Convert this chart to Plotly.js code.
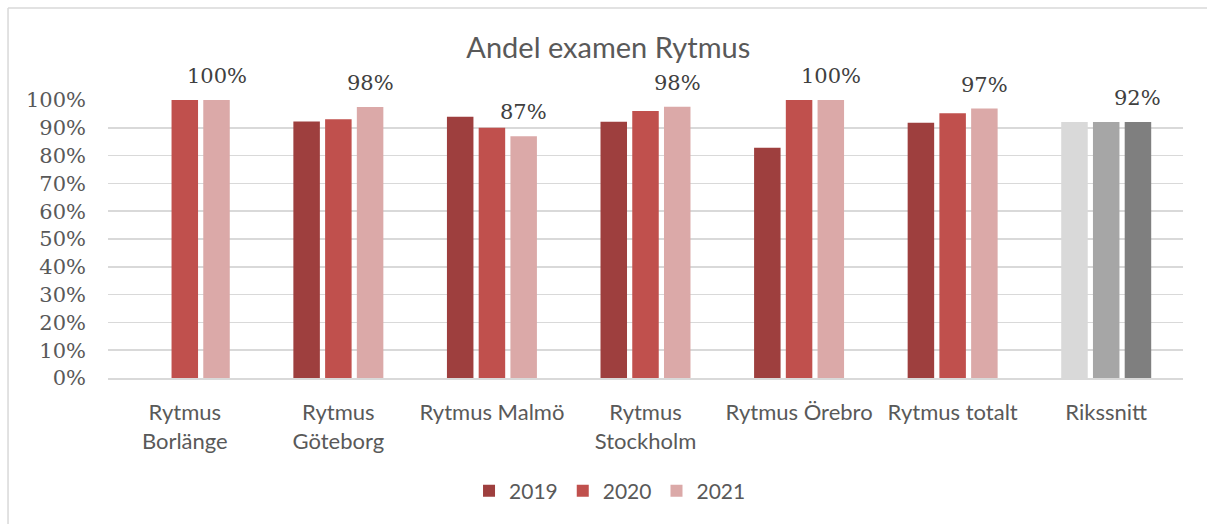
<!DOCTYPE html>
<html>
<head>
<meta charset="utf-8">
<script src="https://cdn.plot.ly/plotly-3.0.1.min.js"></script>
<style>
  body { margin: 0; background: #fff; }
  #plot { width: 1207px; height: 524px; }
</style>
</head>
<body>
<div id="plot"></div>
<script>
const kategorier = [
  "Rytmus<br>Borlänge",
  "Rytmus<br>Göteborg",
  "Rytmus Malmö",
  "Rytmus<br>Stockholm",
  "Rytmus Örebro",
  "Rytmus totalt",
  "Rikssnitt",
];
const ar = ["2019", "2020", "2021"];
const andel2019 = [null, 0.923, 0.94, 0.922, 0.828, 0.918, 0.921];
const andel2020 = [1.0, 0.931, 0.9, 0.96, 1.0, 0.952, 0.921];
const andel2021 = [1.0, 0.975, 0.87, 0.976, 1.0, 0.969, 0.921];
const etiketter2021 = ["100%", "98%", "87%", "98%", "100%", "97%", "92%"];

const rodaFarger = ["#9e3f3e", "#c0504d", "#dba9a8"];
const graFarger = ["#d9d9d9", "#a6a6a6", "#7f7f7f"];

const bargap = 0.38;
const serier = [andel2019, andel2020, andel2021];

// sista kategorin (Rikssnitt) ritas i grått
const data = serier.map((varden, s) => ({
  x: kategorier,
  y: varden,
  type: "bar",
  name: ar[s],
  marker: {
    color: kategorier.map((k, i) =>
      i === kategorier.length - 1 ? graFarger[s] : rodaFarger[s]
    ),
  },
  hoverinfo: "none",
}));

const forskjutning = (1 - bargap) / 3;
const annotations = andel2021.map((v, i) => ({
  x: i + forskjutning,
  y: v,
  xref: "x",
  yref: "y",
  text: etiketter2021[i],
  showarrow: false,
  yanchor: "bottom",
  yshift: 10,
  font: { family: "DejaVu Serif", size: 21, color: "#404040" },
}));

const layout = {
  width: 1207,
  height: 524,
  margin: { l: 108, r: 24, t: 100, b: 146 },
  paper_bgcolor: "#ffffff",
  plot_bgcolor: "#ffffff",
  title: {
    text: "Andel examen Rytmus",
    font: { family: "Lato", size: 29, color: "#595959" },
    x: 0.504,
    xanchor: "center",
    y: 0.908,
    yref: "container",
    yanchor: "middle",
  },
  barmode: "group",
  bargap: bargap,
  bargroupgap: 0.165,
  xaxis: {
    type: "category",
    tickfont: { family: "Lato", size: 22, color: "#595959" },
    showline: true,
    linecolor: "#d9d9d9",
    linewidth: 1.5,
    ticks: "",
    ticklabelstandoff: 14,
    fixedrange: true,
  },
  yaxis: {
    range: [0, 1],
    dtick: 0.1,
    tickformat: ".0%",
    tickfont: { family: "DejaVu Serif", size: 21, color: "#595959" },
    gridcolor: "#d9d9d9",
    gridwidth: 1.5,
    zeroline: false,
    ticks: "",
    ticklabelstandoff: 21,
    fixedrange: true,
  },
  showlegend: true,
  legend: {
    orientation: "h",
    x: 0.467,
    xanchor: "center",
    y: -0.4065,
    yanchor: "middle",
    font: { family: "Lato", size: 21, color: "#595959" },
    traceorder: "normal",
  },
  annotations: annotations,
  shapes: [
    {
      type: "line", xref: "paper", yref: "paper",
      x0: -0.093, x1: 1.03, y0: 1.331, y1: 1.331,
      line: { color: "#d9d9d9", width: 1.5 },
    },
    {
      type: "line", xref: "paper", yref: "paper",
      x0: -0.093, x1: -0.093, y0: 1.331, y1: -0.53,
      line: { color: "#d9d9d9", width: 1.5 },
    },
  ],
};

Plotly.newPlot("plot", data, layout, { displayModeBar: false, staticPlot: true });
</script>
</body>
</html>
